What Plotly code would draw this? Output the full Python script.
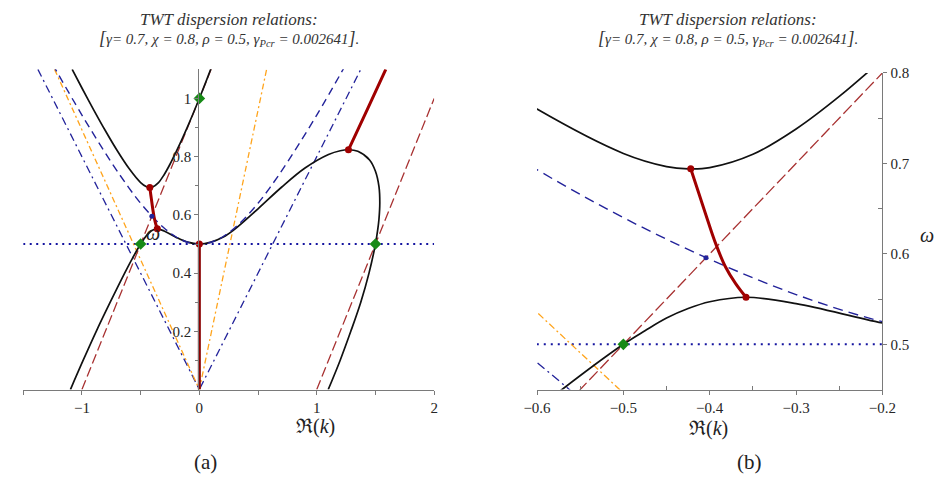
import plotly.graph_objects as go

W_PX, H_PX = 944, 481

# ---- dispersion branches: Re(k) against omega ----
upper_k = [-1.083, -1.0, -0.9, -0.8, -0.7, -0.6, -0.5, -0.45, -0.425, -0.4, -0.35,
           -0.3, -0.25, -0.2, -0.15, -0.1, -0.05, 0.0, 0.05, 0.1]
upper_w = [1.1, 1.036, 0.961, 0.889, 0.821, 0.760, 0.711, 0.6965, 0.694, 0.6953, 0.710,
           0.738, 0.774, 0.815, 0.858, 0.9035, 0.951, 1.0, 1.051, 1.1035]

lower_k = [-1.098, -0.99, -0.878, -0.759, -0.636, -0.571, -0.5, -0.475, -0.45, -0.425,
           -0.4, -0.358, -0.3, -0.2, -0.1, 0.0, 0.1, 0.2, 0.3, 0.5, 0.7, 0.9, 1.1, 1.2,
           1.27, 1.35, 1.45, 1.5, 1.53, 1.537, 1.53, 1.52, 1.5, 1.445, 1.375, 1.29,
           1.199, 1.098]
lower_w = [0.0, 0.1, 0.2, 0.3, 0.4, 0.45, 0.5, 0.515, 0.529, 0.5395,
           0.547, 0.552, 0.545, 0.5236, 0.5063, 0.5, 0.5064, 0.5228, 0.5503, 0.621,
           0.695, 0.761, 0.8075, 0.8205, 0.8238, 0.8184, 0.7888, 0.75, 0.697, 0.64,
           0.586, 0.551, 0.5, 0.4, 0.3, 0.2, 0.1, 0.0]

# real part of the complex-k branches
gap_k = [-0.422, -0.412, -0.402, -0.393, -0.382, -0.370, -0.358]
gap_w = [0.694, 0.665, 0.636, 0.611, 0.586, 0.567, 0.552]
cut_k = [0.0, 0.0]
cut_w = [0.0, 0.5]
high_k = [1.27, 1.43, 1.588]
high_w = [0.8238, 0.962, 1.1]

# ---- reference lines ----
beam_lo_k = [-1.0, 0.1]
beam_lo_w = [0.0, 1.1]
beam_hi_k = [1.0, 2.0]
beam_hi_w = [0.0, 1.0]
tl_k = [-1.25, -1.0, -0.75, -0.6, -0.5, -0.4, -0.3, -0.2, -0.1, 0.0,
        0.1, 0.2, 0.3, 0.4, 0.5, 0.6, 0.75, 1.0, 1.25]
tl_w = [1.118, 0.943, 0.781, 0.693, 0.640, 0.594, 0.555, 0.525, 0.506, 0.5,
        0.506, 0.525, 0.555, 0.594, 0.640, 0.693, 0.781, 0.943, 1.118]
tl_asym_k = [-1.375, 0.0, 1.375]
tl_asym_w = [1.1, 0.0, 1.1]
hf_asym_k = [-1.233, 0.0, 0.573]
hf_asym_w = [1.1, 0.0, 1.1]
rho_k = [-1.5, 2.0]
rho_w = [0.5, 0.5]

# ---- marked points ----
red_pts_k = [0.0, -0.422, -0.358, 1.27]
red_pts_w = [0.5, 0.694, 0.552, 0.8238]
green_pts_k = [0.0, -0.5, 1.5]
green_pts_w = [1.0, 0.5, 0.5]
blue_pts_k = [-0.4044]
blue_pts_w = [0.5956]

BLACK = "#111111"
DARKRED = "#a00000"
BROWN = "#a83232"
NAVY = "#23239a"
ORANGE = "#ffa41c"
DOTBLUE = "#1414a0"
GREEN = "#168a16"

fig = go.Figure()


def line(k, w, xa, ya, color, width, dash="solid", spline=False):
    fig.add_trace(go.Scatter(
        x=k, y=w, xaxis=xa, yaxis=ya, mode="lines",
        line=dict(color=color, width=width, dash=dash,
                  shape="spline" if spline else "linear"),
        hoverinfo="skip"))


def pts(k, w, xa, ya, color, size, symbol="circle"):
    fig.add_trace(go.Scatter(
        x=k, y=w, xaxis=xa, yaxis=ya, mode="markers",
        marker=dict(color=color, size=size, symbol=symbol, line=dict(width=0)),
        hoverinfo="skip"))


panels = [
    ("x", "y", dict(beam="10px,4px", tl="8px,5px", dd="8px,4px,2px,4px",
                     od="6px,3px,2px,3px", dot="2px,4.5px")),
    ("x2", "y2", dict(beam="12px,4px", tl="10px,6px", dd="9px,4px,2px,4px",
                       od="7px,3px,2px,3px", dot="2px,5px")),
]

for xa, ya, d in panels:
    line(rho_k, rho_w, xa, ya, DOTBLUE, 2, d["dot"])
    line(tl_asym_k, tl_asym_w, xa, ya, NAVY, 1.3, d["dd"])
    line(hf_asym_k, hf_asym_w, xa, ya, ORANGE, 1.3, d["od"])
    line(beam_lo_k, beam_lo_w, xa, ya, BROWN, 1.3, d["beam"])
    line(beam_hi_k, beam_hi_w, xa, ya, BROWN, 1.3, d["beam"])
    line(upper_k, upper_w, xa, ya, BLACK, 1.7, spline=True)
    line(lower_k, lower_w, xa, ya, BLACK, 1.7, spline=True)
    line(tl_k, tl_w, xa, ya, NAVY, 1.4, d["tl"], spline=True)
    line(gap_k, gap_w, xa, ya, DARKRED, 3, spline=True)
    line(cut_k, cut_w, xa, ya, "#8a0000", 3)
    line(high_k, high_w, xa, ya, DARKRED, 3, spline=True)
    pts(red_pts_k, red_pts_w, xa, ya, DARKRED, 7)
    pts(green_pts_k, green_pts_w, xa, ya, GREEN, 9, "diamond")
    pts(blue_pts_k, blue_pts_w, xa, ya, NAVY, 5)

TICK_FONT = dict(family="Liberation Serif, DejaVu Serif, serif", size=15, color="#262626")
AX = dict(showgrid=False, zeroline=False, showline=True, linecolor="#7a7a7a",
          linewidth=1, ticks="outside", ticklen=4, tickcolor="#7a7a7a",
          tickwidth=1, tickfont=TICK_FONT, fixedrange=True)


def px_x(p):
    return p / W_PX


def px_y(p):
    return 1 - p / H_PX


fig.update_layout(
    width=W_PX, height=H_PX, margin=dict(l=0, r=0, t=0, b=0),
    paper_bgcolor="white", plot_bgcolor="white", showlegend=False,
    xaxis=dict(AX, domain=[px_x(9.5), px_x(433)], range=[-1.5, 2.0], anchor="y",
               tickmode="array", tickvals=[-1, 0, 1, 2],
               ticktext=["\u22121", "0", "1", "2"],
               minor=dict(tickmode="array", tickvals=[-1.5, -0.5, 0.5, 1.5],
                          ticks="outside", ticklen=4, tickcolor="#7a7a7a")),
    yaxis=dict(AX, domain=[px_y(388), px_y(62.4)], range=[0, 1.1], anchor="free",
               position=px_x(190), side="left",
               tickmode="array", tickvals=[0.2, 0.4, 0.6, 0.8, 1.0],
               ticktext=["0.2", "0.4", "0.6", "0.8", "1"],
               minor=dict(tickmode="array", tickvals=[0.1, 0.3, 0.5, 0.7, 0.9],
                          ticks="outside", ticklen=3, tickcolor="#7a7a7a")),
    xaxis2=dict(AX, domain=[px_x(539), px_x(895)], range=[-0.6, -0.2], anchor="y2",
                tickmode="array", tickvals=[-0.6, -0.5, -0.4, -0.3, -0.2],
                ticktext=["\u22120.6", "\u22120.5", "\u22120.4", "\u22120.3", "\u22120.2"],
                minor=dict(tickmode="array", tickvals=[-0.55, -0.45, -0.35, -0.25],
                           ticks="inside", ticklen=4, tickcolor="#7a7a7a")),
    yaxis2=dict(AX, domain=[px_y(388), px_y(66)], range=[0.45, 0.8], anchor="x2",
                side="right",
                tickmode="array", tickvals=[0.5, 0.6, 0.7, 0.8],
                ticktext=["0.5", "0.6", "0.7", "0.8"],
                minor=dict(tickmode="array", tickvals=[0.55, 0.65, 0.75],
                           ticks="inside", ticklen=4, tickcolor="#7a7a7a")),
)

SERIF = "Liberation Serif, DejaVu Serif, serif"
title1 = "<i>TWT dispersion relations:</i>"
title2 = ("<i><span style='font-size:18px'>[</span>\u03b3= 0.7, \u03c7 = 0.8, \u03c1 = 0.5, "
          "\u03b3<sub>Pcr</sub> = 0.002641<span style='font-size:18px'>]</span>.</i>")


def note(text, x, y, size, color="#222222"):
    fig.add_annotation(text=text, x=px_x(x), y=px_y(y), xref="paper", yref="paper",
                       showarrow=False, xanchor="center", yanchor="middle",
                       font=dict(family=SERIF, size=size, color=color))


for cx in (222, 736):
    note(title1, cx, 12, 17, "#333333")
    note(title2, cx, 31, 15, "#333333")

note("\u211c(<i>k</i>)", 311, 426, 20)
note("\u211c(<i>k</i>)", 716, 428, 20)
note("<i>\u03c9</i>", 143, 229, 20)
note("<i>\u03c9</i>", 941, 231, 20)
note("(a)", 197, 462, 21)
note("(b)", 758, 462, 21)

fig.write_html("out.html")
